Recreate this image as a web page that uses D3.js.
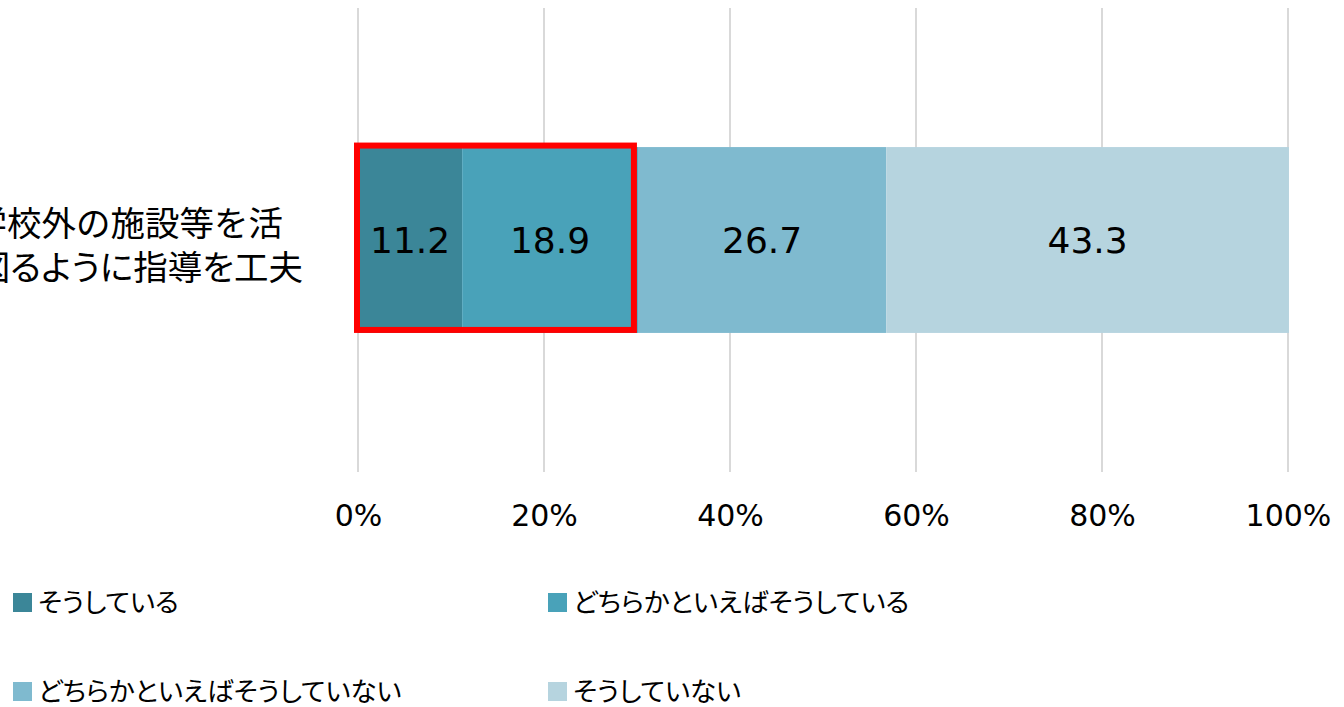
<!DOCTYPE html>
<html><head><meta charset="utf-8">
<script src="https://cdn.jsdelivr.net/npm/d3@7"></script>
<style>
html,body{margin:0;padding:0;background:#fff;overflow:hidden}
.jp{font-family:"Noto Sans CJK JP","Noto Sans",sans-serif;}
.palt{font-feature-settings:"palt";}
.num{font-family:"DejaVu Sans",sans-serif;}
</style></head>
<body>
<svg id="c" width="1344" height="707"></svg>
<script>
const categories = ["学校外の施設等を活用を図るように指導を工夫"];
const categoryLines = ["学校外の施設等を活", "用を図るように指導を工夫"];
const seriesNames = ["そうしている", "どちらかといえばそうしている", "どちらかといえばそうしていない", "そうしていない"];
const seriesValues = [11.2, 18.9, 26.7, 43.3];
const seriesColors = ["#3b8698", "#49a2b9", "#7fbacf", "#b6d4df"];
const tickValues = [0, 20, 40, 60, 80, 100];
const highlightSeries = [0, 1];

const svg = d3.select("#c");
const x = d3.scaleLinear().domain([0, 100]).range([358, 1288]);
const y = d3.scaleBand().domain(categories).range([8, 472]).padding(0.428);

// gridlines
svg.append("g").selectAll("line").data(tickValues).join("line")
  .attr("x1", d => x(d)).attr("x2", d => x(d))
  .attr("y1", 8).attr("y2", 472)
  .attr("stroke", "#d9d9d9").attr("stroke-width", 2);

// axis labels
const axis = d3.axisBottom(x).tickValues(tickValues).tickFormat(d => d + "%").tickSize(0).tickPadding(0);
const ag = svg.append("g").attr("transform", "translate(0,505)").call(axis);
ag.select(".domain").remove();
ag.selectAll("text").attr("class", "num").attr("font-size", 30).attr("fill", "#000").attr("dy", "0.71em");

// stacked bars
let cum = 0;
const segs = seriesValues.map((v, i) => { const s = {i, v, x0: cum, x1: cum + v}; cum += v; return s; });
const cat = categories[0];
const bg = svg.append("g");
bg.selectAll("rect").data(segs).join("rect")
  .attr("x", d => x(d.x0)).attr("width", d => x(d.x1) - x(d.x0))
  .attr("y", y(cat)).attr("height", y.bandwidth())
  .attr("fill", d => seriesColors[d.i]);
bg.selectAll("text").data(segs).join("text")
  .attr("class", "num")
  .attr("x", d => (x(d.x0) + x(d.x1)) / 2)
  .attr("y", y(cat) + y.bandwidth() / 2)
  .attr("dy", "0.36em").attr("text-anchor", "middle")
  .attr("font-size", 36).attr("fill", "#000")
  .text(d => d.v.toFixed(1));

// red highlight box
const hEnd = segs[highlightSeries[highlightSeries.length - 1]].x1;
svg.append("rect")
  .attr("x", x(0) - 1).attr("y", y(cat) - 1.5)
  .attr("width", x(hEnd) - x(0) - 3).attr("height", y.bandwidth() - 1.5)
  .attr("fill", "none").attr("stroke", "#ff0000").attr("stroke-width", 6);

// category label
const lab = svg.append("text").attr("class", "jp").attr("font-size", 34.5).attr("fill", "#000").attr("text-anchor", "end");
const lineEnds = [283, 303];
categoryLines.forEach((t, k) => {
  lab.append("tspan").attr("class", k === 1 ? "palt" : null)
    .attr("x", lineEnds[k]).attr("y", 236 + k * 44).text(t);
});

// legend
const legPos = [[13, 603], [548, 603], [13, 692], [548, 692]];
const lg = svg.append("g").selectAll("g").data(seriesNames).join("g")
  .attr("transform", (d, i) => `translate(${legPos[i][0]},${legPos[i][1]})`);
lg.append("rect").attr("x", 0).attr("y", -10).attr("width", 19).attr("height", 19)
  .attr("fill", (d, i) => seriesColors[i]);
lg.append("text").attr("class", "jp palt").attr("x", 25).attr("y", -1).attr("dy", "0.36em")
  .attr("font-size", 26.5).attr("fill", "#000").text(d => d);
</script>
</body></html>
